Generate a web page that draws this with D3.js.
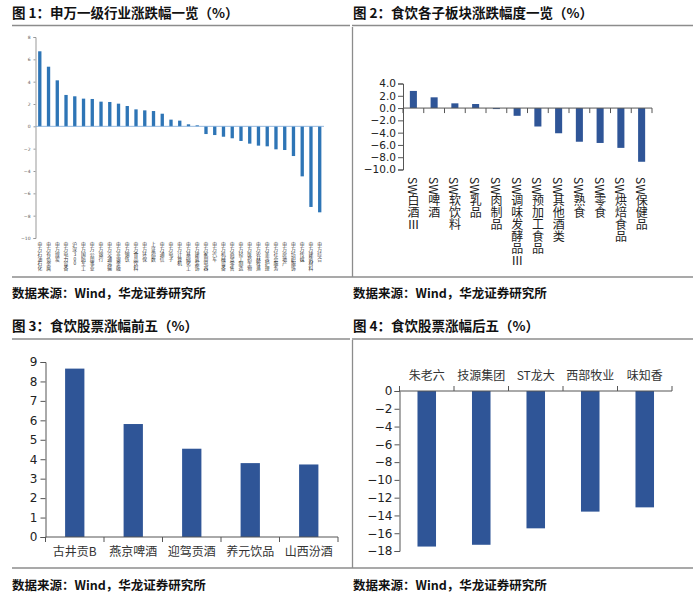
<!DOCTYPE html>
<html>
<head>
<meta charset="utf-8">
<script src="https://cdn.jsdelivr.net/npm/d3@7"></script>
<style>
  html, body { margin: 0; padding: 0; background: #fff; }
  svg { display: block; font-family: "Noto Sans CJK SC", "DejaVu Sans", sans-serif; }
</style>
</head>
<body>
<div id="chart"></div>
<script>
// 图1: 申万一级行业涨跌幅
const industries = ["申万石油石化", "申万有色金属", "申万煤炭", "申万电力设备", "沪深300", "申万国防军工",
  "申万公用事业", "申万银行", "申万交通运输", "申万非银金融", "申万钢铁", "申万食品饮料", "申万环保",
  "上证指数", "申万通信", "申万电子", "申万计算机", "申万基础化工", "申万建筑装饰", "申万家用电器",
  "申万汽车", "申万机械设备", "申万商贸零售", "申万轻工制造", "申万医药生物", "申万农林牧渔",
  "申万美容护理", "申万社会服务", "申万房地产", "申万纺织服饰", "申万传媒", "申万建筑材料", "申万综合"];
const industryChange = [6.72, 5.34, 4.12, 2.81, 2.69, 2.48, 2.45, 2.21, 2.18, 2.03, 1.82, 1.52, 1.43,
  1.37, 1.13, 0.60, 0.51, 0.18, 0.09, -0.69, -0.78, -0.93, -1.07, -1.31, -1.55, -1.73, -1.79, -2.06,
  -2.12, -2.66, -4.48, -7.22, -7.70];
const ticks1 = [8, 6, 4, 2, 0, -2, -4, -6, -8, -10];

// 图2: 食饮各子板块
const sectors = ["SW白酒Ⅲ", "SW啤酒", "SW软饮料", "SW乳品", "SW肉制品", "SW调味发酵品Ⅲ",
  "SW预加工食品", "SW其他酒类", "SW熟食", "SW零食", "SW烘焙食品", "SW保健品"];
const sectorChange = [2.79, 1.75, 0.77, 0.66, -0.10, -1.26, -3.0, -4.1, -5.48, -5.68, -6.48, -8.74];
const ticks2 = [4, 2, 0, -2, -4, -6, -8, -10];

// 图3: 涨幅前五
const topStocks = ["古井贡B", "燕京啤酒", "迎驾贡酒", "养元饮品", "山西汾酒"];
const topChange = [8.66, 5.81, 4.54, 3.80, 3.73];
const ticks3 = [0, 1, 2, 3, 4, 5, 6, 7, 8, 9];

// 图4: 涨幅后五
const bottomStocks = ["朱老六", "技源集团", "ST龙大", "西部牧业", "味知香"];
const bottomChange = [-17.5, -17.3, -15.45, -13.57, -13.09];
const ticks4 = [0, -2, -4, -6, -8, -10, -12, -14, -16, -18];

const W = 693, H = 601;
const lineColor = "#8c8c8c";
const darkBlue = "#2f5597";

const svg = d3.select("#chart").append("svg")
  .attr("width", W).attr("height", H);

// frame lines, titles and sources
const frame = svg.append("g").attr("stroke", lineColor).attr("stroke-width", 1.3);
[[12, 350, 25.5], [352, 693, 25.5], [12, 693, 277], [12, 350, 339], [352, 693, 339], [12, 693, 568]]
  .forEach(([x1, x2, y]) => frame.append("line").attr("x1", x1).attr("x2", x2).attr("y1", y).attr("y2", y));
[[27, 277], [340, 568]].forEach(([y1, y2]) =>
  frame.append("line").attr("x1", 352.5).attr("x2", 352.5).attr("y1", y1).attr("y2", y2));

const titles = [
  [12, 18, "图 1：申万一级行业涨跌幅一览（%）"],
  [353, 18, "图 2：食饮各子板块涨跌幅度一览（%）"],
  [12, 331, "图 3：食饮股票涨幅前五（%）"],
  [353, 331, "图 4：食饮股票涨幅后五（%）"]
];
titles.forEach(([x, y, t]) => svg.append("text").attr("x", x).attr("y", y)
  .attr("font-size", 13.5).attr("font-weight", "bold").attr("fill", "#111").text(t));
[[12, 298], [353, 298], [12, 590], [353, 590]].forEach(([x, y]) =>
  svg.append("text").attr("x", x).attr("y", y).attr("font-size", 12.5).attr("font-weight", "bold")
    .attr("fill", "#111").text("数据来源：Wind，华龙证券研究所"));

// ---------- panel 1 ----------
{
  const x = d3.scaleBand().domain(industries).range([35.5, 324]).paddingInner(0.62).paddingOuter(0.3);
  const y = d3.scaleLinear().domain([-10, 8]).range([238, 37]);
  const g = svg.append("g");
  g.selectAll("rect").data(industryChange).join("rect")
    .attr("x", (d, i) => x(industries[i]))
    .attr("width", x.bandwidth())
    .attr("y", d => y(Math.max(0, d)))
    .attr("height", d => Math.abs(y(d) - y(0)))
    .attr("fill", "#2e75b6");
  const ax = g.append("g").attr("transform", "translate(35.5,0)")
    .call(d3.axisLeft(y).tickValues(ticks1).tickSize(2).tickPadding(3).tickFormat(d3.format("d")));
  ax.select(".domain").attr("stroke", "#999");
  ax.selectAll(".tick line").attr("stroke", "#999");
  ax.selectAll("text").attr("font-size", 4.5).attr("fill", "#555").attr("font-family", "DejaVu Sans");
  g.append("line").attr("x1", 35.5).attr("x2", 324).attr("y1", y(0)).attr("y2", y(0))
    .attr("stroke", "#7aa7d6").attr("stroke-width", 0.8);
  g.selectAll(".lab").data(industries).join("text")
    .attr("class", "lab")
    .attr("x", d => x(d) + x.bandwidth() / 2)
    .attr("y", 242)
    .style("writing-mode", "vertical-rl")
    .style("text-orientation", "upright")
    .attr("font-size", 4.8).attr("fill", "#333")
    .text(d => d);
}

// ---------- panel 2 ----------
{
  const x = d3.scaleBand().domain(sectors).range([403, 652]).paddingInner(0.66).paddingOuter(0.33);
  const y = d3.scaleLinear().domain([-10, 4]).range([169.5, 83.5]);
  const g = svg.append("g");
  g.selectAll("rect").data(sectorChange).join("rect")
    .attr("x", (d, i) => x(sectors[i]))
    .attr("width", x.bandwidth())
    .attr("y", d => y(Math.max(0, d)))
    .attr("height", d => Math.max(1, Math.abs(y(d) - y(0))))
    .attr("fill", darkBlue);
  const ax = g.append("g").attr("transform", "translate(403,0)")
    .call(d3.axisLeft(y).tickValues(ticks2).tickSize(5).tickPadding(2).tickFormat(d3.format(".1f")));
  ax.select(".domain").attr("stroke", "#555");
  ax.selectAll(".tick line").attr("stroke", "#555");
  ax.selectAll("text").attr("font-size", 10.5).attr("fill", "#222").attr("font-family", "DejaVu Sans")
    .text(d => d3.format(".1f")(d).replace("-", "−"));
  const xa = g.append("g").attr("stroke", "#555");
  xa.append("line").attr("x1", 403).attr("x2", 652).attr("y1", y(0)).attr("y2", y(0));
  d3.range(sectors.length + 1).forEach(i => xa.append("line")
    .attr("x1", 403 + i * x.step() * 1).attr("x2", 403 + i * x.step())
    .attr("y1", y(0)).attr("y2", y(0) + 5));
  g.selectAll(".lab").data(sectors).join("text")
    .attr("class", "lab")
    .attr("x", d => x(d) + x.bandwidth() / 2)
    .attr("y", 177)
    .style("writing-mode", "vertical-rl")
    .attr("font-size", 12).attr("fill", "#222")
    .text(d => d);
}

// ---------- panel 3 ----------
{
  const x = d3.scaleBand().domain(topStocks).range([45.5, 338]).paddingInner(0.67).paddingOuter(0.335);
  const y = d3.scaleLinear().domain([0, 9]).range([537, 362]);
  const g = svg.append("g");
  g.selectAll("rect").data(topChange).join("rect")
    .attr("x", (d, i) => x(topStocks[i]))
    .attr("width", x.bandwidth())
    .attr("y", d => y(d))
    .attr("height", d => y(0) - y(d))
    .attr("fill", darkBlue);
  const ax = g.append("g").attr("transform", "translate(45.5,0)")
    .call(d3.axisLeft(y).tickValues(ticks3).tickSize(5).tickPadding(3));
  ax.select(".domain").attr("stroke", "#555");
  ax.selectAll(".tick line").attr("stroke", "#555");
  ax.selectAll("text").attr("font-size", 12).attr("fill", "#222").attr("font-family", "DejaVu Sans");
  const xa = g.append("g").attr("stroke", "#555");
  xa.append("line").attr("x1", 45.5).attr("x2", 338).attr("y1", y(0)).attr("y2", y(0));
  topStocks.concat([null]).forEach((d, i) => {
    const xx = 45.5 + i * x.step();
    xa.append("line").attr("x1", xx).attr("x2", xx).attr("y1", y(0)).attr("y2", y(0) + 5);
  });
  g.selectAll(".lab").data(topStocks).join("text")
    .attr("class", "lab")
    .attr("x", d => x(d) + x.bandwidth() / 2)
    .attr("y", 556)
    .attr("text-anchor", "middle")
    .attr("font-size", 12).attr("fill", "#333")
    .text(d => d);
}

// ---------- panel 4 ----------
{
  const x = d3.scaleBand().domain(bottomStocks).range([399.5, 672]).paddingInner(0.66).paddingOuter(0.33);
  const y = d3.scaleLinear().domain([-18, 0]).range([551, 391]);
  const g = svg.append("g");
  g.selectAll("rect").data(bottomChange).join("rect")
    .attr("x", (d, i) => x(bottomStocks[i]))
    .attr("width", x.bandwidth())
    .attr("y", y(0))
    .attr("height", d => y(d) - y(0))
    .attr("fill", darkBlue);
  const ax = g.append("g").attr("transform", "translate(399.5,0)")
    .call(d3.axisLeft(y).tickValues(ticks4).tickSize(5).tickPadding(2));
  ax.select(".domain").attr("stroke", "#555");
  ax.selectAll(".tick line").attr("stroke", "#555");
  ax.selectAll("text").attr("font-size", 12).attr("fill", "#222").attr("font-family", "DejaVu Sans");
  const xa = g.append("g").attr("stroke", "#555");
  xa.append("line").attr("x1", 399.5).attr("x2", 672).attr("y1", y(0)).attr("y2", y(0));
  bottomStocks.concat([null]).forEach((d, i) => {
    const xx = 399.5 + i * x.step();
    xa.append("line").attr("x1", xx).attr("x2", xx).attr("y1", y(0)).attr("y2", y(0) - 5);
  });
  g.selectAll(".lab").data(bottomStocks).join("text")
    .attr("class", "lab")
    .attr("x", d => x(d) + x.bandwidth() / 2)
    .attr("y", 380)
    .attr("text-anchor", "middle")
    .attr("font-size", 12).attr("fill", "#333")
    .text(d => d);
}
</script>
</body>
</html>
